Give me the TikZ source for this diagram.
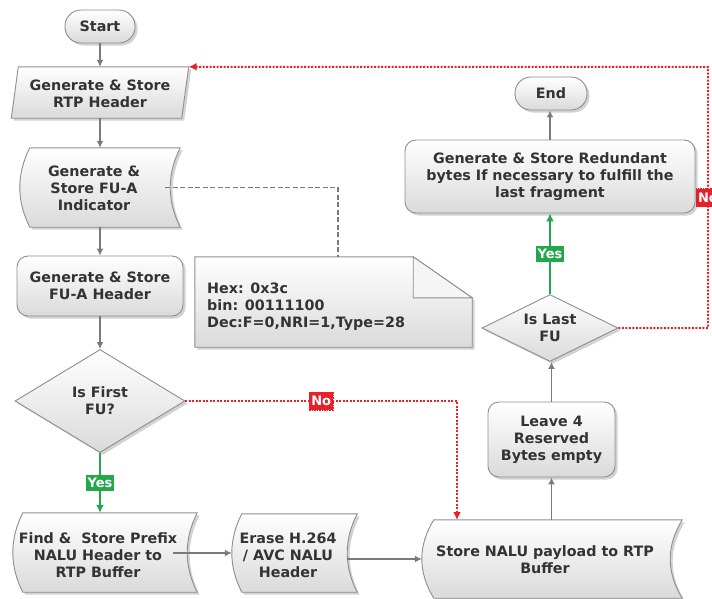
\documentclass[tikz,border=0pt]{standalone}
\usepackage{fontspec}
\setmainfont{DejaVu Sans}
\usetikzlibrary{arrows.meta,shapes.geometric,shadows,calc}

\definecolor{ink}{HTML}{333333}
\definecolor{edge}{HTML}{8E8E8E}
\definecolor{wire}{HTML}{7A7A7A}
\definecolor{okgreen}{HTML}{22A84A}
\definecolor{nored}{HTML}{E8202A}
\definecolor{boxbot}{HTML}{DADADA}

\tikzset{
  boxfill/.style={draw=edge, line width=0.9pt, top color=white, bottom color=boxbot,
    drop shadow={shadow xshift=2.5pt, shadow yshift=-2.5pt, opacity=0.35}},
  txt/.style={font=\bfseries\fontsize{14.3}{17}\selectfont, text=ink, align=center, inner sep=0pt},
  holder/.style={draw=none, inner sep=0pt, rectangle},
  pill/.style={boxfill, txt, rounded corners=16pt, minimum height=33pt},
  roundbox/.style={boxfill, txt, rounded corners=11pt},
  decision/.style={boxfill, txt, diamond},
  flow/.style={draw=wire, line width=1.9pt, -{Latex[length=7pt,width=7pt]}},
  yesflow/.style={draw=okgreen, line width=2.2pt, -{Latex[length=8pt,width=8pt]}},
  noflow/.style={draw=nored, line width=2pt, dash pattern=on 2pt off 1.5pt,
    -{Latex[length=8pt,width=8pt]}},
  dashline/.style={draw=wire, line width=1.8pt, dash pattern=on 5pt off 2.5pt},
  yestag/.style={fill=okgreen, text=white, font=\bfseries\fontsize{13}{15}\selectfont,
    inner xsep=1.2pt, inner ysep=0pt, minimum height=16pt},
  notag/.style={fill=nored, draw=nored, line width=1pt, dash pattern=on 1.5pt off 1pt,
    text=white, font=\bfseries\fontsize{13}{15}\selectfont,
    inner xsep=2pt, inner ysep=0pt, minimum height=18pt},
}

% stored-data outline: convex left side, concave right side
\newcommand\storedoutline[2]{%
  \path[boxfill] let \p1=(#1.north west), \p2=(#1.south east), \n1={(\y1-\y2)/3} in
    (\x1+#2pt,\y1) -- (\x2,\y1)
    .. controls (\x2-4*#2pt/3,\y1-\n1) and (\x2-4*#2pt/3,\y2+\n1) .. (\x2,\y2)
    -- (\x1+#2pt,\y2)
    .. controls (\x1-#2pt/3,\y2+\n1) and (\x1-#2pt/3,\y1-\n1) .. cycle;}

\begin{document}
\begin{tikzpicture}[x=1pt,y=-1pt]
\useasboundingbox (0,0) rectangle (712,598);
\fill[white] (0,0) rectangle (712,598);

% ---- left column ----
\node[pill, minimum width=70pt] (start) at (100,26.5) {Start};

\node[holder, minimum width=177pt, minimum height=51pt] (rtp) at (100,92.5) {};
\path[boxfill] ($(rtp.north west)+(7,0)$) -- (rtp.north east)
  -- ($(rtp.south east)+(-7,0)$) -- (rtp.south west) -- cycle;
\node[txt] (rtp-t) at (100,93.5) {Generate \& Store\\RTP Header};

\node[holder, minimum width=160pt, minimum height=79pt] (ind) at (100,187.5) {};
\storedoutline{ind}{10}
\node[txt] (ind-t) at (94,188) {Generate \&\\Store FU-A\\Indicator};

\node[roundbox, minimum width=166pt, minimum height=60pt] (hdr) at (100,286)
  {Generate \& Store\\FU-A Header};

\node[decision, minimum width=170pt, minimum height=103pt, aspect=1.65] (first) at (100,401)
  {Is First\\FU?};

% ---- bottom row ----
\node[holder, minimum width=184pt, minimum height=79pt] (find) at (105,552.5) {};
\storedoutline{find}{10}
\node[txt] (find-t) at (98,555) {Find \&\ \ Store Prefix\\NALU Header to\\RTP Buffer};

\node[holder, minimum width=125pt, minimum height=78pt] (erase) at (294.5,553) {};
\storedoutline{erase}{10}
\node[txt] (erase-t) at (288,555) {Erase H.264\\/ AVC NALU\\Header};

\node[holder, minimum width=260pt, minimum height=78pt] (nalu) at (552,559) {};
\storedoutline{nalu}{12}
\node[txt] (nalu-t) at (545,560) {Store NALU payload to RTP\\Buffer};

% ---- right column ----
\node[roundbox, minimum width=127pt, minimum height=75pt] (leave) at (551.5,439.5)
  {Leave 4\\Reserved\\Bytes empty};

\node[decision, minimum width=136pt, minimum height=67pt, aspect=2] (last) at (550,328)
  {Is Last\\FU};

\node[roundbox, minimum width=290pt, minimum height=73pt] (red) at (550,176.5)
  {Generate \& Store Redundant\\bytes If necessary to fulfill the\\last fragment};

\node[pill, minimum width=72pt] (end) at (551,93.5) {End};

% ---- note with folded corner ----
\node[holder, minimum width=277pt, minimum height=90pt] (note) at (333.5,302) {};
\path[boxfill] (note.north west) -- ($(note.north east)+(-59,0)$)
  -- ($(note.north east)+(0,41)$) -- (note.south east) -- (note.south west) -- cycle;
\draw[draw=edge, line width=0.9pt, fill=black!4] ($(note.north east)+(-59,0)$)
  -- ($(note.north east)+(-59,41)$) -- ($(note.north east)+(0,41)$) -- cycle;
\node[txt, align=left, anchor=west] (note-t) at (207,306.5)
  {Hex: 0x3c\\bin: 00111100\\Dec:F=0,NRI=1,Type=28};

% ---- connectors ----
\draw[flow] (start) -- (rtp);
\draw[flow] (rtp) -- (ind);
\draw[flow] (ind) -- (hdr);
\draw[flow] (hdr) -- (first);
\draw[yesflow] (first.south) -- node[yestag] (yes1) {Yes} (first.south |- find.north);

\coordinate (find-out) at (173,553);
\draw[flow] (find-out) -- (find-out -| erase.west);
\coordinate (erase-out) at (347,559);
\draw[flow] (erase-out) -- (nalu.west);

\draw[flow] (leave.south |- nalu.north) -- (leave.south);
\draw[flow] (leave.north) -- (leave.north |- last.south);
\draw[yesflow] (last.north) -- node[yestag] (yes2) {Yes} (last.north |- red.south);
\draw[flow] (red.north) -- (red.north |- end.south);

\coordinate (ind-out) at (165,187.5);
\coordinate (note-in) at (338,257);
\draw[dashline] (ind-out) -| (note-in);

\coordinate (nalu-in) at (457,520);
\draw[noflow] (first.east) -| node[notag, pos=0.25] (no1) {No} (nalu-in);

\coordinate (loop-top) at (708,67);
\draw[noflow] (last.east) -| node[notag, pos=0.75] (no2) {No} (loop-top) -- (rtp.north east);
\end{tikzpicture}
\end{document}
